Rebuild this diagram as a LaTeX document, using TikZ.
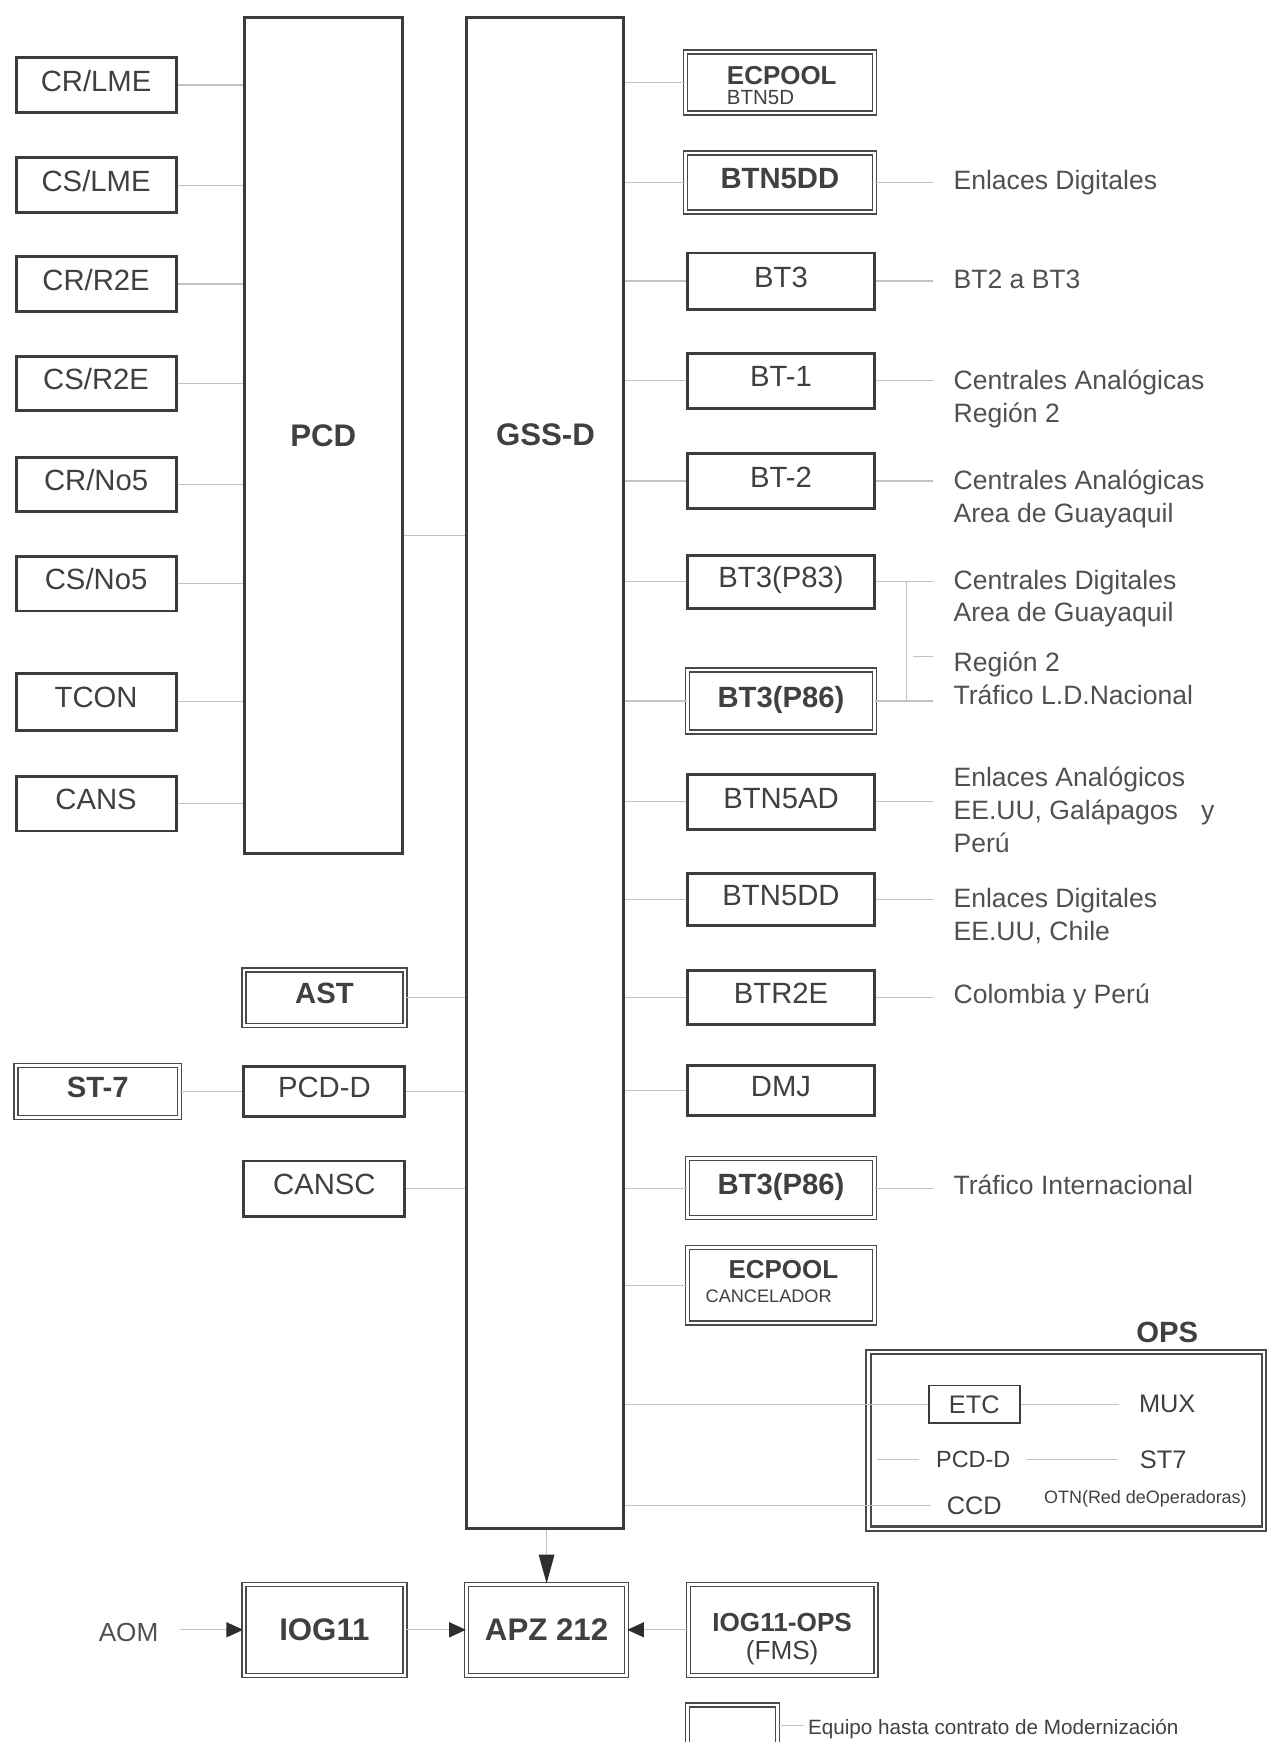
\documentclass[tikz,border=0pt]{standalone}
\usepackage{fontspec}
\setmainfont{Liberation Sans}
\usetikzlibrary{arrows.meta}
\definecolor{boxc}{HTML}{3C3C3C}
\definecolor{dblc}{HTML}{4A4A4A}
\definecolor{txt}{HTML}{404040}
\definecolor{lblc}{HTML}{505050}
\definecolor{linec}{HTML}{C2C2C2}
\definecolor{tipc}{HTML}{2E2E2E}
\begin{document}
\begin{tikzpicture}[x=0.02cm,y=-0.02cm,
  sbox/.style={draw=boxc, line width=1.5pt, fill=white, inner sep=0pt, text=txt,
    font=\fontsize{15}{18}\selectfont, text height=0.38cm, text depth=0.16cm},
  dbox/.style={draw=dblc, line width=0.75pt, double=white, double distance=1.3pt,
    fill=white, inner sep=0pt, text=txt,
    font=\bfseries\fontsize{15}{18}\selectfont, text height=0.38cm, text depth=0.16cm},
  lw/.style={minimum width=2.88cm, minimum height=0.98cm},
  mw/.style={minimum width=2.9cm},
  rw/.style={minimum width=3.36cm},
  conn/.style={draw=linec, line width=0.6pt},
  lbl/.style={anchor=base west, inner sep=0pt, text=lblc, font=\fontsize{13.6}{16}\selectfont},
  otext/.style={inner sep=0pt, text=txt, font=\fontsize{13}{15}\selectfont},
  arr/.style={draw=linec, line width=0.7pt, -{Triangle[length=3mm,width=2.7mm,color=tipc]}},
  varr/.style={draw=linec, line width=0.7pt, -{Triangle[length=5.2mm,width=2.8mm,color=tipc]}},
]
\useasboundingbox (0,0) rectangle (1140,1568);

% big columns
\node[sbox, minimum width=2.84cm, minimum height=15.04cm, font=\bfseries\fontsize{16}{19}\selectfont, text depth=0cm] (pcd) at (291,392) {PCD};
\node[sbox, minimum width=2.82cm, minimum height=27.2cm] (gss) at (490.5,696) {};
\node[inner sep=0pt, text=txt, font=\bfseries\fontsize{16}{19}\selectfont] (gsslbl) at (491,391) {GSS-D};

% left column
\node[sbox,lw] (crlme) at (86.5,76.5) {CR/LME};
\node[sbox,lw] (cslme) at (86.5,166.6) {CS/LME};
\node[sbox,lw] (crr2e) at (86.5,255.7) {CR/R2E};
\node[sbox,lw] (csr2e) at (86.5,345) {CS/R2E};
\node[sbox,lw] (crno5) at (86.5,436) {CR/No5};
\node[sbox,lw] (csno5) at (86.5,525.5) {CS/No5};
\node[sbox,lw, minimum height=1.02cm] (tcon) at (86.5,631.7) {TCON};
\node[sbox,lw] (cans) at (86.5,723.5) {CANS};
\foreach \n in {crlme,cslme,crr2e,csr2e,crno5,csno5,tcon,cans}
  \draw[conn] (\n.east) -- (\n.east -| pcd.west);
\coordinate (pg) at (391,482);
\draw[conn] (pg -| pcd.east) -- (pg -| gss.west);

% middle lower column
\node[dbox,mw, minimum height=1.0cm] (ast) at (292,898) {AST};
\node[sbox,mw, minimum height=0.9cm] (pcdd) at (292,982.5) {PCD-D};
\node[dbox, minimum width=2.94cm, minimum height=0.94cm] (st7) at (88,982.5) {ST-7};
\node[sbox,mw, minimum height=1.0cm] (cansc) at (292,1070) {CANSC};
\foreach \n in {ast,pcdd,cansc}
  \draw[conn] (\n.east) -- (\n.east -| gss.west);
\draw[conn] (st7.east) -- (pcdd.west);

% right column
\node[dbox,rw, minimum width=3.4cm, minimum height=1.1cm] (ec1) at (702,74.3) {};
\node[anchor=base west, inner sep=0pt, text=txt, font=\bfseries\fontsize{13.3}{16}\selectfont] (ec1a) at (654,76) {ECPOOL};
\node[anchor=base west, inner sep=0pt, text=txt, font=\fontsize{10.5}{12}\selectfont] (ec1b) at (654,94) {BTN5D};
\node[dbox,rw, minimum width=3.4cm, minimum height=1.06cm] (btn5dd) at (702,164.3) {BTN5DD};
\node[sbox,rw, minimum height=1.01cm] (bt3) at (703,253) {BT3};
\node[sbox,rw, minimum height=0.99cm] (bt1) at (703,342.6) {BT-1};
\node[sbox,rw, minimum height=1.0cm] (bt2) at (703,433) {BT-2};
\node[sbox,rw, minimum height=0.96cm] (p83) at (703,523.6) {BT3(P83)};
\node[dbox,rw, minimum height=1.12cm] (p86) at (703,631) {BT3(P86)};
\node[sbox,rw, minimum height=0.98cm] (btn5ad) at (703,721.8) {BTN5AD};
\node[sbox,rw, minimum height=0.94cm] (btn5dd2) at (703,809.5) {BTN5DD};
\node[sbox,rw, minimum height=0.98cm] (btr2e) at (703,898) {BTR2E};
\node[sbox,rw, minimum height=0.9cm] (dmj) at (703,981.5) {DMJ};
\node[dbox,rw, minimum height=1.06cm] (p86b) at (703,1069.4) {BT3(P86)};
\node[dbox,rw, minimum height=1.36cm] (ec2) at (703,1157) {};
\node[anchor=base west, inner sep=0pt, text=txt, font=\bfseries\fontsize{13.3}{16}\selectfont] (ec2a) at (655.4,1150.4) {ECPOOL};
\node[anchor=base west, inner sep=0pt, text=txt, font=\fontsize{9.3}{11}\selectfont] (ec2b) at (634.8,1172) {CANCELADOR};
\foreach \n in {ec1,btn5dd,bt3,bt1,bt2,p83,p86,btn5ad,btn5dd2,btr2e,dmj,p86b,ec2}
  \draw[conn] (\n.west -| gss.east) -- (\n.west);

% labels on the right
\coordinate (lx) at (840,0);
\coordinate (bx) at (816,0);
\foreach \n in {btn5dd,bt3,bt1,bt2,p83,p86,btn5ad,btn5dd2,btr2e,p86b}
  \draw[conn] (\n.east) -- (\n.east -| lx);
\draw[conn] (p83.east -| bx) -- (p86.east -| bx);
\coordinate (dash) at (822,591);
\draw[conn] (dash) -- (dash -| lx);

\node[lbl] (l1) at (858,170.5) {Enlaces Digitales};
\node[lbl] (l2) at (858,259.5) {BT2 a BT3};
\node[lbl] (l3a) at (858,350.5) {Centrales Analógicas};
\node[lbl] (l3b) at (858,380.5) {Región 2};
\node[lbl] (l4a) at (858,440.5) {Centrales Analógicas};
\node[lbl] (l4b) at (858,470.5) {Area de Guayaquil};
\node[lbl] (l5a) at (858,530.5) {Centrales Digitales};
\node[lbl] (l5b) at (858,559.5) {Area de Guayaquil};
\node[lbl] (l6a) at (858,604.5) {Región 2};
\node[lbl] (l6b) at (858,634.5) {Tráfico L.D.Nacional};
\node[lbl] (l7a) at (858,708) {Enlaces Analógicos};
\node[lbl] (l7b) at (858,738) {EE.UU, Galápagos\hspace{0.42cm}y};
\node[lbl] (l7c) at (858,767.5) {Perú};
\node[lbl] (l8a) at (858,816.5) {Enlaces Digitales};
\node[lbl] (l8b) at (858,846.5) {EE.UU, Chile};
\node[lbl] (l9) at (858,903.5) {Colombia y Perú};
\node[lbl] (l10) at (858,1075) {Tráfico Internacional};

% OPS
\node[inner sep=0pt, text=txt, font=\bfseries\fontsize{15}{18}\selectfont] (opst) at (1050.6,1199) {OPS};
\node[draw=dblc, line width=1.1pt, double=white, double distance=1.2pt, minimum width=7.13cm, minimum height=3.18cm, inner sep=0pt] (opsbox) at (959.8,1296.5) {};
\node[draw=boxc, line width=0.9pt, minimum width=1.64cm, minimum height=0.68cm, inner sep=0pt, text=txt, font=\fontsize{13}{15}\selectfont] (etc) at (877,1264) {ETC};
\node[otext] (mux) at (1050.6,1264) {MUX};
\draw[conn] (etc.west -| gss.east) -- (etc.west);
\draw[conn] (etc.east) -- ([xshift=-0.35cm]mux.west |- etc.east);
\node[otext, font=\fontsize{12}{14}\selectfont] (opspcdd) at (876,1314) {PCD-D};
\node[otext] (opsst7) at (1047,1314) {ST7};
\coordinate (opsl) at ([xshift=0.17cm]opsbox.west);
\draw[conn] (opsl |- opspcdd) -- ([xshift=-0.3cm]opspcdd.west);
\draw[conn] ([xshift=0.28cm]opspcdd.east) -- ([xshift=-0.4cm]opsst7.west);
\node[otext] (ccd) at (877,1355) {CCD};
\draw[conn] (ccd.west -| gss.east) -- ([xshift=-0.27cm]ccd.west);
\node[inner sep=0pt, text=txt, font=\fontsize{9.2}{11}\selectfont] (otn) at (1031,1349) {OTN(Red deOperadoras)};

% bottom row
\node[dbox, minimum width=2.9cm, minimum height=1.64cm, font=\bfseries\fontsize{16}{19}\selectfont, text depth=0cm] (iog) at (292,1467) {IOG11};
\node[dbox, minimum width=2.88cm, minimum height=1.64cm, font=\bfseries\fontsize{16}{19}\selectfont, text depth=0cm] (apz) at (492,1467) {APZ 212};
\node[dbox, minimum width=3.38cm, minimum height=1.64cm] (iogops) at (704,1467) {};
\node[anchor=base, inner sep=0pt, text=txt, font=\bfseries\fontsize{13.4}{16}\selectfont] (iogopsa) at (704,1468.8) {IOG11-OPS};
\node[anchor=base, inner sep=0pt, text=txt, font=\fontsize{13.4}{16}\selectfont] (iogopsb) at (704,1493.4) {(FMS)};
\node[inner sep=0pt, text=lblc, font=\fontsize{13.4}{16}\selectfont] (aom) at (115.7,1469) {AOM};
\draw[arr, shorten <=0.39cm] (iog.west -| aom.east) -- (iog.west);
\draw[arr] (iog.east) -- (apz.west);
\draw[arr] (iogops.west) -- (apz.east);
\draw[varr] (gss.south -| apz.north) -- (apz.north);

% legend
\node[dbox, minimum width=1.62cm, minimum height=0.9cm] (leg) at (659.5,1557) {};
\coordinate (legl) at (724,1553);
\draw[conn] (leg.east |- legl) -- (legl);
\node[anchor=west, inner sep=0pt, text=txt, font=\fontsize{10.6}{12}\selectfont] (legt) at (727,1556) {Equipo hasta contrato de Modernización};
\end{tikzpicture}
\end{document}
